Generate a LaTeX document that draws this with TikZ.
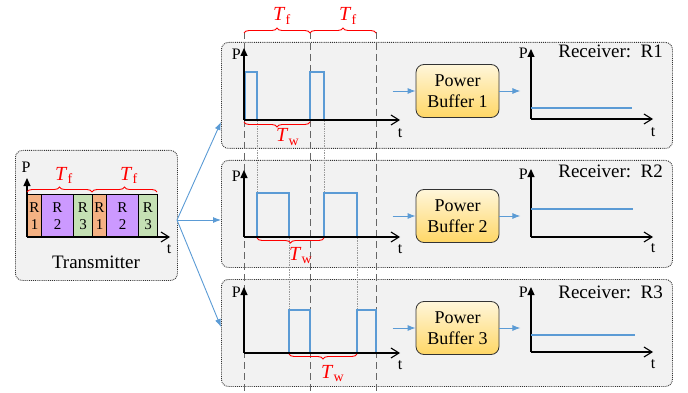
\documentclass[tikz,border=0pt]{standalone}
\usepackage{fontspec}
\setmainfont{Liberation Serif}
\usetikzlibrary{arrows.meta,positioning,decorations.pathreplacing}
\usepackage{xcolor}

\definecolor{sigblue}{HTML}{5B9BD5}
\definecolor{panelgray}{HTML}{F2F2F2}
\definecolor{slotorange}{HTML}{F4B183}
\definecolor{slotpurple}{HTML}{CC99FF}
\definecolor{slotgreen}{HTML}{C5E0B4}
\definecolor{bufflight}{HTML}{FFF6DA}
\definecolor{buffdark}{HTML}{FFD766}
\newcommand{\Tsub}[1]{\textit{T}\textsubscript{#1}}

\begin{document}
\begin{tikzpicture}[x=1pt, y=-1pt,
    panel/.style={draw=black!80, densely dotted, line width=0.9pt, rounded corners=7pt, fill=panelgray, anchor=north west, inner sep=0pt},
    buffer/.style={draw=black!80, line width=0.8pt, rounded corners=8pt, top color=bufflight, bottom color=buffdark, minimum width=83pt, minimum height=53pt, align=center, inner sep=0pt, font=\fontsize{18}{21}\selectfont},
    slot/.style={draw, line width=1pt, anchor=north west, minimum height=43pt, inner sep=0pt, align=center, font=\fontsize{15}{17}\selectfont},
    axis/.style={line width=1.1pt},
    paxis/.style={axis, -{Triangle[length=8pt,width=7pt]}},
    taxis/.style={axis, -{Straight Barb[length=8pt,width=10pt]}},
    pulse/.style={sigblue, line width=1.6pt},
    flow/.style={sigblue, line width=0.9pt, -{Latex[length=8pt,width=6pt]}},
    brace/.style={red, line width=0.9pt, decorate, decoration={brace, amplitude=5pt}},
    guide/.style={black!60, line width=0.8pt, dash pattern=on 7pt off 4pt},
    hint/.style={black!40, line width=0.7pt, densely dotted},
    axlabel/.style={font=\fontsize{16}{18}\selectfont, inner sep=0pt},
    rxlabel/.style={font=\fontsize{19}{21}\selectfont, inner sep=0pt, anchor=base east},
    tlabel/.style={red, font=\fontsize{20}{22}\selectfont, inner sep=0pt, anchor=base west}
]
    \useasboundingbox (0,0) rectangle (688,393);

    % Panels
    \node[panel, minimum width=162pt, minimum height=130pt] (tx) at (15,150) {};
    \node[panel, minimum width=451pt, minimum height=106pt] (rx1) at (221,42) {};
    \node[panel, minimum width=451pt, minimum height=107pt] (rx2) at (221,160) {};
    \node[panel, minimum width=451pt, minimum height=107pt] (rx3) at (221,279) {};

    % Transmitter
    \node[slot, fill=slotorange, minimum width=14pt] (s1) at (27,194) {R\\1};
    \node[slot, fill=slotpurple, minimum width=32pt] (s2) at (41,194) {R\\2};
    \node[slot, fill=slotgreen, minimum width=19pt] (s3) at (73,194) {R\\3};
    \node[slot, fill=slotorange, minimum width=14pt] (s4) at (92,194) {R\\1};
    \node[slot, fill=slotpurple, minimum width=32pt] (s5) at (106,194) {R\\2};
    \node[slot, fill=slotgreen, minimum width=19pt] (s6) at (138,194) {R\\3};
    \draw[paxis] (27,237) -- (27,178);
    \draw[taxis] (27,237) -- (170,237);
    \node[axlabel] (txp) at (26,167) {P};
    \node[axlabel] (txt) at (169,249) {t};
    \draw[brace] (27,192) -- (92,192);
    \draw[brace] (92,192) -- (157,192);
    \node[tlabel] (txtf1) at (55,180) {\Tsub{f}};
    \node[tlabel] (txtf2) at (120,180) {\Tsub{f}};
    \node[font=\fontsize{19}{21}\selectfont, inner sep=0pt, anchor=base] (txname) at (96,268) {Transmitter};

    \coordinate (txout) at (177,220);
    \coordinate (in1) at (221,122);
    \coordinate (in2) at (221,220);
    \coordinate (in3) at (221,327);
    \draw[flow] (txout) -- (in1);
    \draw[flow] (txout) -- (in2);
    \draw[flow] (txout) -- (in3);

    % Frame guides
    \draw[guide] (244,32) -- (244,392);
    \draw[guide] (310,32) -- (310,392);
    \draw[guide] (376,32) -- (376,392);
    \draw[hint] (257,121) -- (257,193);
    \draw[hint] (324,121) -- (324,193);
    \draw[hint] (289,238) -- (289,310);
    \draw[hint] (357,238) -- (357,310);

    \draw[brace] (244,33) -- (310,33);
    \draw[brace] (310,33) -- (376,33);
    \node[tlabel] (tf1) at (273,21) {\Tsub{f}};
    \node[tlabel] (tf2) at (339,21) {\Tsub{f}};

    % Received pulses
    \draw[pulse] (245,120) -- (245,72) -- (257,72) -- (257,120);
    \draw[pulse] (310,120) -- (310,72) -- (324,72) -- (324,120);
    \draw[pulse] (257,237) -- (257,193) -- (289,193) -- (289,237);
    \draw[pulse] (324,237) -- (324,193) -- (357,193) -- (357,237);
    \draw[pulse] (289,353) -- (289,310) -- (310,310) -- (310,353);
    \draw[pulse] (357,353) -- (357,310) -- (376,310) -- (376,353);

    \draw[paxis] (244,120) -- (244,48);
    \draw[taxis] (244,120) -- (400,120);
    \draw[paxis] (244,237) -- (244,170);
    \draw[taxis] (244,237) -- (400,237);
    \draw[paxis] (244,353) -- (244,287);
    \draw[taxis] (244,353) -- (400,353);
    \node[axlabel, anchor=east] (p1) at (241,54) {P};
    \node[axlabel, anchor=east] (p2) at (241,176) {P};
    \node[axlabel, anchor=east] (p3) at (241,292) {P};
    \node[axlabel] (t1) at (400,133) {t};
    \node[axlabel] (t2) at (400,249) {t};
    \node[axlabel] (t3) at (400,365) {t};

    \draw[brace] (310,122) -- (244,122);
    \draw[brace] (324,238) -- (257,238);
    \draw[brace] (357,354) -- (289,354);
    \node[tlabel] (tw1) at (276,142) {\Tsub{w}};
    \node[tlabel] (tw2) at (289,260) {\Tsub{w}};
    \node[tlabel] (tw3) at (321,378) {\Tsub{w}};

    % Power buffers
    \node[buffer] (buf1) at (457.5,91) {Power\\Buffer 1};
    \node[buffer] (buf2) at (457.5,216) {Power\\Buffer 2};
    \node[buffer] (buf3) at (457.5,328) {Power\\Buffer 3};
    \draw[flow] (buf1.west) ++(-23,0) -- (buf1.west);
    \draw[flow] (buf2.west) ++(-23,0) -- (buf2.west);
    \draw[flow] (buf3.west) ++(-23,0) -- (buf3.west);
    \draw[flow] (buf1.east) -- ++(21,0);
    \draw[flow] (buf2.east) -- ++(21,0);
    \draw[flow] (buf3.east) -- ++(21,0);

    % Receiver outputs
    \draw[paxis] (531,119) -- (531,49);
    \draw[taxis] (531,119) -- (653,119);
    \draw[paxis] (531,237) -- (531,169);
    \draw[taxis] (531,237) -- (653,237);
    \draw[paxis] (531,352) -- (531,287);
    \draw[taxis] (531,352) -- (653,352);
    \draw[pulse] (531,108) -- (632,108);
    \draw[pulse] (531,209) -- (633,209);
    \draw[pulse] (531,335) -- (635,335);
    \node[axlabel, anchor=east] (rp1) at (528,53) {P};
    \node[axlabel, anchor=east] (rp2) at (528,174) {P};
    \node[axlabel, anchor=east] (rp3) at (528,292) {P};
    \node[axlabel] (rt1) at (653,132) {t};
    \node[axlabel] (rt2) at (653,248) {t};
    \node[axlabel] (rt3) at (653,364) {t};
    \node[rxlabel] (name1) at (663,58) {Receiver:~~R1};
    \node[rxlabel] (name2) at (663,178) {Receiver:~~R2};
    \node[rxlabel] (name3) at (663,298) {Receiver:~~R3};
\end{tikzpicture}
\end{document}
